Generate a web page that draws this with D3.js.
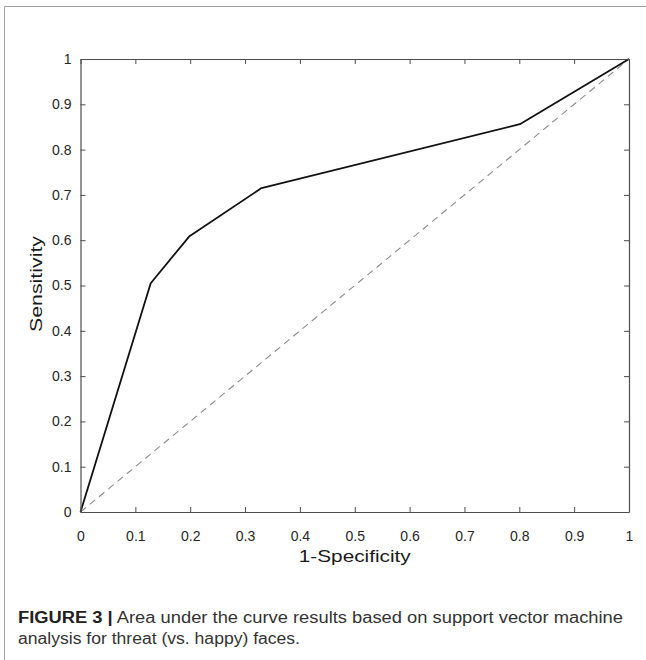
<!DOCTYPE html>
<html><head><meta charset="utf-8">
<script src="https://cdn.jsdelivr.net/npm/d3@7"></script>
<style>body{margin:0;background:#fff}svg{display:block}</style>
</head><body>
<script>
const fpr = [0, 0.128, 0.198, 0.33, 0.801, 1];
const tpr = [0, 0.505, 0.608, 0.715, 0.856, 1];
const chanceX = [0, 1];
const chanceY = [0, 1];
const xTicks = [0,0.1,0.2,0.3,0.4,0.5,0.6,0.7,0.8,0.9,1];
const yTicks = [0,0.1,0.2,0.3,0.4,0.5,0.6,0.7,0.8,0.9,1];
const xLabel = "1-Specificity";
const yLabel = "Sensitivity";
const captionBold = "FIGURE 3 |";
const captionLine1 = " Area under the curve results based on support vector machine";
const captionLine2 = "analysis for threat (vs. happy) faces.";

const W = 646, H = 660;
const L = 80.5, R = 629, T = 59, B = 512;
const svg = d3.select("body").append("svg").attr("width", W).attr("height", H);

// frame
svg.append("path").attr("d", `M4.5,${H} V6.5 H${W}`).attr("fill","none").attr("stroke","#a0a0a0").attr("stroke-width",1);

const x = d3.scaleLinear().domain([0,1]).range([L,R]);
const y = d3.scaleLinear().domain([0,1]).range([B,T]);
const fmt = d => d === 0 ? "0" : d === 1 ? "1" : d3.format(".1f")(d);
const font = "'Liberation Sans', Arial, sans-serif";

// chance line
const line = d3.line().x(d=>x(d[0])).y(d=>y(d[1]));
svg.append("path").datum(d3.zip(chanceX, chanceY)).attr("d", line)
  .attr("fill","none").attr("stroke","#8c8c8c").attr("stroke-width",1.1).attr("stroke-dasharray","7,5");
// ROC
svg.append("path").datum(d3.zip(fpr, tpr)).attr("d", line)
  .attr("fill","none").attr("stroke","#111").attr("stroke-width",1.8).attr("stroke-linejoin","round");

const axisCol = "#4d4d4d";
function styleAxis(g, showText){
  g.select(".domain").attr("stroke", axisCol).attr("stroke-width",1.2);
  g.selectAll(".tick line").attr("stroke", axisCol).attr("stroke-width",1);
  g.selectAll(".tick text").attr("fill","#262626").style("font-family",font).style("font-size","14px");
  if(!showText) g.selectAll(".tick text").remove();
}
const gb = svg.append("g").attr("transform",`translate(0,${B})`)
  .call(d3.axisBottom(x).tickValues(xTicks).tickFormat(fmt).tickSizeInner(-5).tickSizeOuter(0).tickPadding(19));
styleAxis(gb, true);
const gt = svg.append("g").attr("transform",`translate(0,${T})`)
  .call(d3.axisTop(x).tickValues(xTicks).tickSizeInner(-5).tickSizeOuter(0));
styleAxis(gt, false);
const gl = svg.append("g").attr("transform",`translate(${L},0)`)
  .call(d3.axisLeft(y).tickValues(yTicks).tickFormat(fmt).tickSizeInner(-5).tickSizeOuter(0).tickPadding(9));
styleAxis(gl, true);
const gr = svg.append("g").attr("transform",`translate(${R},0)`)
  .call(d3.axisRight(y).tickValues(yTicks).tickSizeInner(-5).tickSizeOuter(0));
styleAxis(gr, false);

// axis labels
svg.append("text").attr("x",(L+R)/2).attr("y",562).attr("text-anchor","middle")
  .style("font-family",font).style("font-size","17px").attr("fill","#1a1a1a")
  .attr("textLength",112).attr("lengthAdjust","spacingAndGlyphs").text(xLabel);
svg.append("text").attr("transform",`translate(42,284) rotate(-90)`).attr("text-anchor","middle")
  .style("font-family",font).style("font-size","17px").attr("fill","#1a1a1a")
  .attr("textLength",96).attr("lengthAdjust","spacingAndGlyphs").text(yLabel);

// caption
const c1 = svg.append("text").attr("x",18).attr("y",623).style("font-family",font).style("font-size","16px").attr("fill","#333")
  .attr("textLength",605).attr("lengthAdjust","spacingAndGlyphs");
c1.append("tspan").style("font-weight","bold").attr("fill","#222").text(captionBold);
c1.append("tspan").text(captionLine1);
svg.append("text").attr("x",18).attr("y",644).style("font-family",font).style("font-size","16px").attr("fill","#333")
  .attr("textLength",282).attr("lengthAdjust","spacingAndGlyphs").text(captionLine2);
</script>
</body></html>
